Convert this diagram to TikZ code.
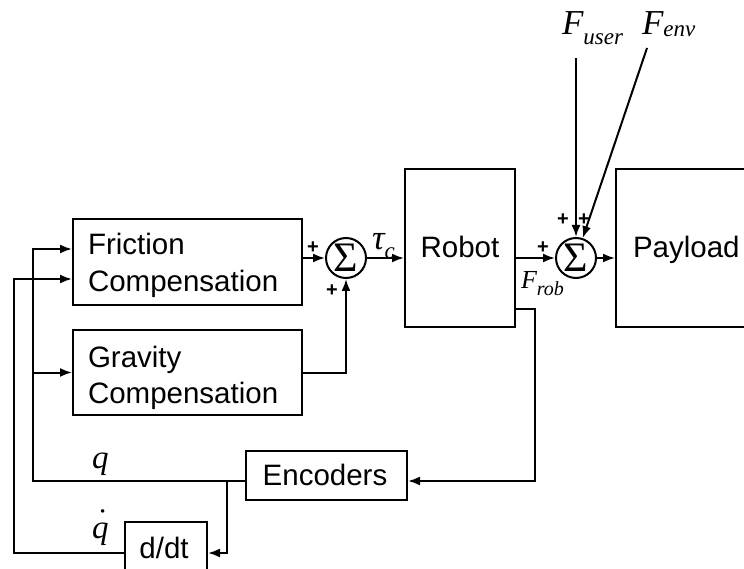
\documentclass[tikz,border=0pt]{standalone}
\usepackage{fontspec}
\setmainfont{Liberation Sans}
\newfontfamily\tms{Liberation Serif}
\usetikzlibrary{arrows.meta,calc}
\begin{document}
\begin{tikzpicture}[x=1pt,y=-1pt,line width=2pt,
  boxn/.style={draw,rectangle,inner sep=0pt,line width=2pt},
  txt/.style={inner sep=0pt,font=\fontsize{29.5}{36}\selectfont},
  sumn/.style={draw,circle,minimum size=40pt,inner sep=0pt,line width=2pt,font=\tms\fontsize{42}{42}\selectfont},
  arr/.style={-{Latex[length=12pt,width=9pt]}},
  pl/.style={inner sep=0pt,font=\bfseries\fontsize{20}{20}\selectfont},
  ml/.style={inner sep=0pt,font=\tms\itshape\fontsize{35}{35}\selectfont},
]
\useasboundingbox (0,0) rectangle (744,569);
\clip (0,0) rectangle (744,569);
% boxes
\node[boxn,minimum width=229pt,minimum height=86pt] (fric) at (187.5,262) {};
\node[txt,anchor=base west] (fric1) at (87,255) {Friction};
\node[txt,anchor=base west] (fric2) at (87,291) {Compensation};
\node[boxn,minimum width=229pt,minimum height=85pt] (grav) at (187.5,372.5) {};
\node[txt,anchor=base west] (grav1) at (87,367) {Gravity};
\node[txt,anchor=base west] (grav2) at (87,403) {Compensation};
\node[boxn,minimum width=110pt,minimum height=158pt] (robot) at (460,248) {};
\node[txt,anchor=base] (robott) at (460,258) {Robot};
\node[boxn,minimum width=160pt,minimum height=158pt] (pay) at (696,248) {};
\node[txt,anchor=base west] (payt) at (632,258) {Payload};
\node[boxn,minimum width=161pt,minimum height=49pt] (enc) at (326.5,475.5) {};
\node[txt,anchor=base] (enct) at (325,485) {Encoders};
\node[boxn,minimum width=82pt,minimum height=80pt] (ddt) at (166,562) {};
\node[txt,anchor=base] (ddtt) at (164,558) {d/dt};
% sums
\node[sumn] (sum1) at (346,258) {Σ};
\node[sumn] (sum2) at (576,258) {Σ};
% coordinates
\coordinate (fu) at (576,58);
\coordinate (fe) at (647,48);
\coordinate (fb) at (535,309);
\coordinate (qline) at (33,481);
\coordinate (br) at (227,481);
\coordinate (dy) at (14,553);
% connectors
\draw[arr] (fric.east |- sum1) -- (sum1);
\draw[arr] (grav.east) -| (sum1);
\draw[arr] (sum1) -- (robot.west |- sum1);
\draw[arr] (robot.east |- sum2) -- (sum2);
\draw[arr] (sum2) -- (pay.west |- sum2);
\draw[arr] (fu) -- (sum2.north);
\draw[arr] (fe) -- (sum2);
\draw[arr] (robot.east |- fb) -- (fb) |- (enc.east |- qline);
\draw[arr] (enc.west |- qline) -- (qline) |- ($(fric.west)+(0,-13)$);
\draw[arr] (qline |- grav.west) -- (grav.west);
\draw[arr] (br) |- (ddt.east |- dy);
\draw[arr] (ddt.west |- dy) -- (dy) |- ($(fric.west)+(0,17)$);
% plus signs
\node[pl] (p1) at (313,248) {+};
\node[pl] (p2) at (332,291) {+};
\node[pl] (p3) at (543,248) {+};
\node[pl] (p4) at (563,220) {+};
\node[pl] (p5) at (584,220) {+};
% labels
\node[ml,anchor=base west] (tau) at (371,250) {τ\raisebox{-9pt}{\fontsize{23}{23}\selectfont c}};
\node[ml,anchor=base west] (fuser) at (561,35) {F\raisebox{-10pt}{\fontsize{23}{23}\selectfont user}};
\node[ml,anchor=base west] (fenv) at (641,35) {F\raisebox{-2pt}{\fontsize{23}{23}\selectfont env}};
\node[ml,anchor=base west,font=\tms\itshape\fontsize{26}{26}\selectfont] (frob) at (520,288) {F\raisebox{-7pt}{\fontsize{20}{20}\selectfont rob}};
\node[ml,anchor=base west,font=\tms\itshape\fontsize{33}{33}\selectfont] (q) at (91,468) {q};
\node[ml,anchor=base west,font=\tms\itshape\fontsize{33}{33}\selectfont] (qd) at (91,538) {\rlap{\hspace{3pt}\raisebox{7pt}{˙}}q};
\end{tikzpicture}
\end{document}
